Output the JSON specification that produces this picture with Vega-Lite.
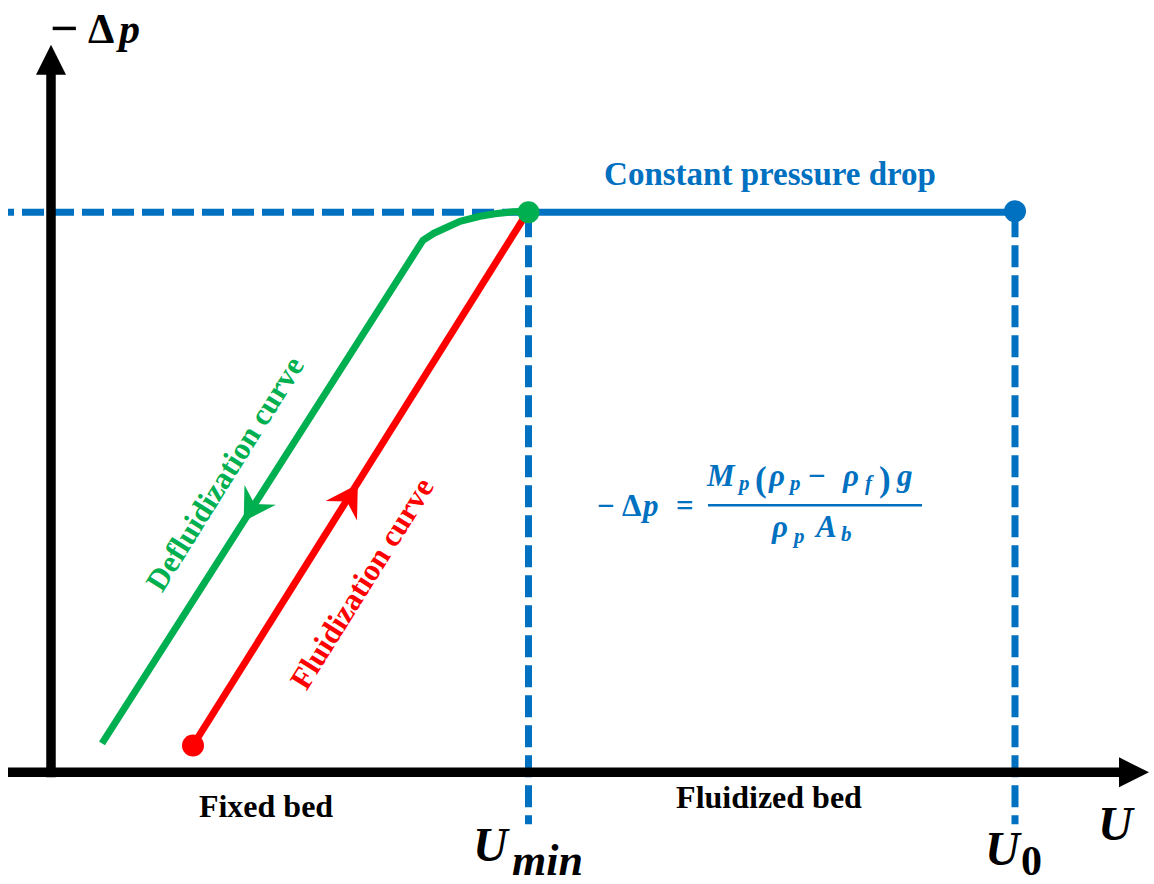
{
  "$schema": "https://vega.github.io/schema/vega-lite/v6.json",
  "width": 1154,
  "height": 884,
  "autosize": {"type": "fit", "contains": "padding"},
  "padding": 0,
  "background": "white",
  "config": {"view": {"stroke": null}},
  "datasets": {
    "segments": [
      {"kind": "axis", "x": 51, "y": 104, "x2": 51, "y2": 812},
      {"kind": "axis", "x": 8, "y": 109, "x2": 1122, "y2": 109},
      {"kind": "hdash", "x": 8, "y": 671, "x2": 528.5, "y2": 671},
      {"kind": "vdash", "x": 528.5, "y": 671, "x2": 528.5, "y2": 57},
      {"kind": "vdash", "x": 1015, "y": 671, "x2": 1015, "y2": 57},
      {"kind": "solid", "x": 528.5, "y": 671, "x2": 1015, "y2": 671},
      {"kind": "bar", "x": 708, "y": 377, "x2": 922, "y2": 377}
    ],
    "curves": [
      {"part": "defluid", "x": 102, "y": 138},
      {"part": "defluid", "x": 423, "y": 643},
      {"part": "defluid", "x": 434, "y": 650},
      {"part": "defluid", "x": 447, "y": 656},
      {"part": "defluid", "x": 460, "y": 662},
      {"part": "defluid", "x": 480, "y": 667},
      {"part": "defluid", "x": 495, "y": 669.5},
      {"part": "defluid", "x": 513, "y": 671.5},
      {"part": "defluid", "x": 528, "y": 672},
      {"part": "fluid", "x": 193, "y": 136},
      {"part": "fluid", "x": 528, "y": 672}
    ],
    "dots": [
      {"part": "flow", "x": 1015, "y": 672},
      {"part": "fluid", "x": 193, "y": 136},
      {"part": "defluid", "x": 528.5, "y": 671}
    ],
    "arrows": [
      {"kind": "yaxis", "x": 51, "y": 824},
      {"kind": "xaxis", "x": 1134, "y": 109},
      {"kind": "defluid", "x": 254, "y": 377.5},
      {"kind": "fluid", "x": 347.5, "y": 381.5}
    ],
    "texts": [
      {"role": "title33", "part": "flow", "t": "Constant pressure drop", "x": 770, "y": 698},
      {"role": "label32", "part": "axis", "t": "Fixed bed", "x": 266, "y": 64},
      {"role": "label32", "part": "axis", "t": "Fluidized bed", "x": 769, "y": 73},
      {"role": "rot", "part": "defluid", "t": "Defluidization curve", "x": 226, "y": 408},
      {"role": "rot", "part": "fluid", "t": "Fluidization curve", "x": 363, "y": 298},
      {"role": "U48", "part": "axis", "t": "U", "x": 1098, "y": 41},
      {"role": "U48", "part": "axis", "t": "U", "x": 473, "y": 20},
      {"role": "U48", "part": "axis", "t": "U", "x": 985, "y": 16},
      {"role": "sub44", "part": "axis", "t": "min", "x": 512, "y": 6},
      {"role": "up42", "part": "axis", "t": "0", "x": 1021, "y": 6},
      {"role": "minus50", "part": "axis", "t": "−", "x": 50, "y": 839},
      {"role": "up42", "part": "axis", "t": "Δ", "x": 88, "y": 841},
      {"role": "it42", "part": "axis", "t": "p", "x": 119, "y": 841},
      {"role": "it31", "part": "flow", "t": "p", "x": 643, "y": 366},
      {"role": "it31", "part": "flow", "t": "M", "x": 707, "y": 396},
      {"role": "it31", "part": "flow", "t": "ρ", "x": 769, "y": 396},
      {"role": "it31", "part": "flow", "t": "ρ", "x": 843, "y": 396},
      {"role": "it31", "part": "flow", "t": "g", "x": 897, "y": 396},
      {"role": "it31", "part": "flow", "t": "ρ", "x": 772, "y": 345},
      {"role": "it31", "part": "flow", "t": "A", "x": 816, "y": 345},
      {"role": "up31", "part": "flow", "t": "−", "x": 597, "y": 366},
      {"role": "up31", "part": "flow", "t": "Δ", "x": 622, "y": 366},
      {"role": "up31", "part": "flow", "t": "=", "x": 676, "y": 366},
      {"role": "up31", "part": "flow", "t": "−", "x": 808, "y": 396},
      {"role": "paren", "part": "flow", "t": "(", "x": 755, "y": 391},
      {"role": "paren", "part": "flow", "t": ")", "x": 879, "y": 391},
      {"role": "sub21", "part": "flow", "t": "p", "x": 739, "y": 392},
      {"role": "sub21", "part": "flow", "t": "p", "x": 790, "y": 392},
      {"role": "sub21", "part": "flow", "t": "f", "x": 865, "y": 392},
      {"role": "sub21", "part": "flow", "t": "p", "x": 794, "y": 339},
      {"role": "sub21", "part": "flow", "t": "b", "x": 841, "y": 341}
    ]
  },
  "encoding": {
    "x": {"field": "x", "type": "quantitative", "scale": {"domain": [0, 1154], "nice": false, "zero": false}, "axis": null},
    "y": {"field": "y", "type": "quantitative", "scale": {"domain": [0, 884], "nice": false, "zero": false}, "axis": null},
    "color": {"field": "part", "type": "nominal", "scale": {"domain": ["axis", "flow", "fluid", "defluid"], "range": ["#000000", "#0070C0", "#FF0000", "#00B050"]}, "legend": null}
  },
  "layer": [
    {
      "data": {"name": "segments"},
      "transform": [{"filter": "datum.kind === 'hdash'"}],
      "mark": {"type": "rule", "strokeWidth": 7, "strokeDash": [22, 8], "strokeDashOffset": 16},
      "encoding": {"x2": {"field": "x2"}, "y2": {"field": "y2"}, "color": {"value": "#0070C0"}}
    },
    {
      "data": {"name": "segments"},
      "transform": [{"filter": "datum.kind === 'vdash'"}],
      "mark": {"type": "rule", "strokeWidth": 7, "strokeDash": [22, 8], "strokeDashOffset": 27},
      "encoding": {"x2": {"field": "x2"}, "y2": {"field": "y2"}, "color": {"value": "#0070C0"}}
    },
    {
      "data": {"name": "segments"},
      "transform": [{"filter": "datum.kind === 'solid'"}],
      "mark": {"type": "rule", "strokeWidth": 7},
      "encoding": {"x2": {"field": "x2"}, "y2": {"field": "y2"}, "color": {"value": "#0070C0"}}
    },
    {
      "data": {"name": "segments"},
      "transform": [{"filter": "datum.kind === 'bar'"}],
      "mark": {"type": "rule", "strokeWidth": 2.5},
      "encoding": {"x2": {"field": "x2"}, "y2": {"field": "y2"}, "color": {"value": "#0070C0"}}
    },
    {
      "data": {"name": "segments"},
      "transform": [{"filter": "datum.kind === 'axis'"}],
      "mark": {"type": "rule", "strokeWidth": 9.5},
      "encoding": {"x2": {"field": "x2"}, "y2": {"field": "y2"}, "color": {"value": "#000000"}}
    },
    {
      "data": {"name": "curves"},
      "mark": {"type": "line", "strokeWidth": 7, "strokeCap": "butt"}
    },
    {
      "data": {"name": "dots"},
      "mark": {"type": "point", "shape": "circle", "filled": true, "size": 484, "opacity": 1}
    },
    {
      "data": {"name": "arrows"},
      "transform": [{"filter": "datum.kind === 'yaxis'"}],
      "mark": {"type": "point", "shape": "M0,-1L1,1L-1,1Z", "filled": true, "size": 900, "opacity": 1, "strokeWidth": 0},
      "encoding": {"color": {"value": "#000000"}}
    },
    {
      "data": {"name": "arrows"},
      "transform": [{"filter": "datum.kind === 'xaxis'"}],
      "mark": {"type": "point", "shape": "M0,-1L1,1L-1,1Z", "angle": 90, "filled": true, "size": 900, "opacity": 1, "strokeWidth": 0},
      "encoding": {"color": {"value": "#000000"}}
    },
    {
      "data": {"name": "arrows"},
      "transform": [{"filter": "datum.kind === 'defluid'"}],
      "mark": {"type": "point", "shape": "M0,-1L0.95,0.6L0,0.05L-0.95,0.6Z", "angle": 212, "filled": true, "size": 1521, "opacity": 1, "strokeWidth": 0},
      "encoding": {"color": {"value": "#00B050"}}
    },
    {
      "data": {"name": "arrows"},
      "transform": [{"filter": "datum.kind === 'fluid'"}],
      "mark": {"type": "point", "shape": "M0,-1L0.95,0.6L0,0.05L-0.95,0.6Z", "angle": 32, "filled": true, "size": 1521, "opacity": 1, "strokeWidth": 0},
      "encoding": {"color": {"value": "#FF0000"}}
    },
    {
      "data": {"name": "texts"},
      "transform": [{"filter": "datum.role === 'title33'"}],
      "mark": {"type": "text", "font": "Liberation Serif", "fontWeight": "bold", "fontSize": 33, "align": "center", "baseline": "alphabetic"},
      "encoding": {"text": {"field": "t"}}
    },
    {
      "data": {"name": "texts"},
      "transform": [{"filter": "datum.role === 'label32'"}],
      "mark": {"type": "text", "font": "Liberation Serif", "fontWeight": "bold", "fontSize": 32, "align": "center", "baseline": "alphabetic"},
      "encoding": {"text": {"field": "t"}}
    },
    {
      "data": {"name": "texts"},
      "transform": [{"filter": "datum.role === 'rot'"}],
      "mark": {"type": "text", "font": "Liberation Serif", "fontWeight": "bold", "fontSize": 31, "align": "center", "baseline": "middle", "angle": -58},
      "encoding": {"text": {"field": "t"}}
    },
    {
      "data": {"name": "texts"},
      "transform": [{"filter": "datum.role === 'U48'"}],
      "mark": {"type": "text", "font": "Liberation Serif", "fontWeight": "bold", "fontStyle": "italic", "fontSize": 48, "align": "left", "baseline": "alphabetic"},
      "encoding": {"text": {"field": "t"}}
    },
    {
      "data": {"name": "texts"},
      "transform": [{"filter": "datum.role === 'sub44'"}],
      "mark": {"type": "text", "font": "Liberation Serif", "fontWeight": "bold", "fontStyle": "italic", "fontSize": 44, "align": "left", "baseline": "alphabetic"},
      "encoding": {"text": {"field": "t"}}
    },
    {
      "data": {"name": "texts"},
      "transform": [{"filter": "datum.role === 'up42'"}],
      "mark": {"type": "text", "font": "Liberation Serif", "fontWeight": "bold", "fontSize": 42, "align": "left", "baseline": "alphabetic"},
      "encoding": {"text": {"field": "t"}}
    },
    {
      "data": {"name": "texts"},
      "transform": [{"filter": "datum.role === 'minus50'"}],
      "mark": {"type": "text", "font": "Liberation Serif", "fontWeight": "bold", "fontSize": 50, "align": "left", "baseline": "alphabetic"},
      "encoding": {"text": {"field": "t"}}
    },
    {
      "data": {"name": "texts"},
      "transform": [{"filter": "datum.role === 'it42'"}],
      "mark": {"type": "text", "font": "Liberation Serif", "fontWeight": "bold", "fontStyle": "italic", "fontSize": 42, "align": "left", "baseline": "alphabetic"},
      "encoding": {"text": {"field": "t"}}
    },
    {
      "data": {"name": "texts"},
      "transform": [{"filter": "datum.role === 'it31'"}],
      "mark": {"type": "text", "font": "Liberation Serif", "fontWeight": "bold", "fontStyle": "italic", "fontSize": 31, "align": "left", "baseline": "alphabetic"},
      "encoding": {"text": {"field": "t"}}
    },
    {
      "data": {"name": "texts"},
      "transform": [{"filter": "datum.role === 'up31'"}],
      "mark": {"type": "text", "font": "Liberation Serif", "fontWeight": "bold", "fontSize": 31, "align": "left", "baseline": "alphabetic"},
      "encoding": {"text": {"field": "t"}}
    },
    {
      "data": {"name": "texts"},
      "transform": [{"filter": "datum.role === 'paren'"}],
      "mark": {"type": "text", "font": "Liberation Serif", "fontWeight": "bold", "fontSize": 35, "align": "left", "baseline": "alphabetic"},
      "encoding": {"text": {"field": "t"}}
    },
    {
      "data": {"name": "texts"},
      "transform": [{"filter": "datum.role === 'sub21'"}],
      "mark": {"type": "text", "font": "Liberation Serif", "fontWeight": "bold", "fontStyle": "italic", "fontSize": 21, "align": "left", "baseline": "alphabetic"},
      "encoding": {"text": {"field": "t"}}
    }
  ]
}
